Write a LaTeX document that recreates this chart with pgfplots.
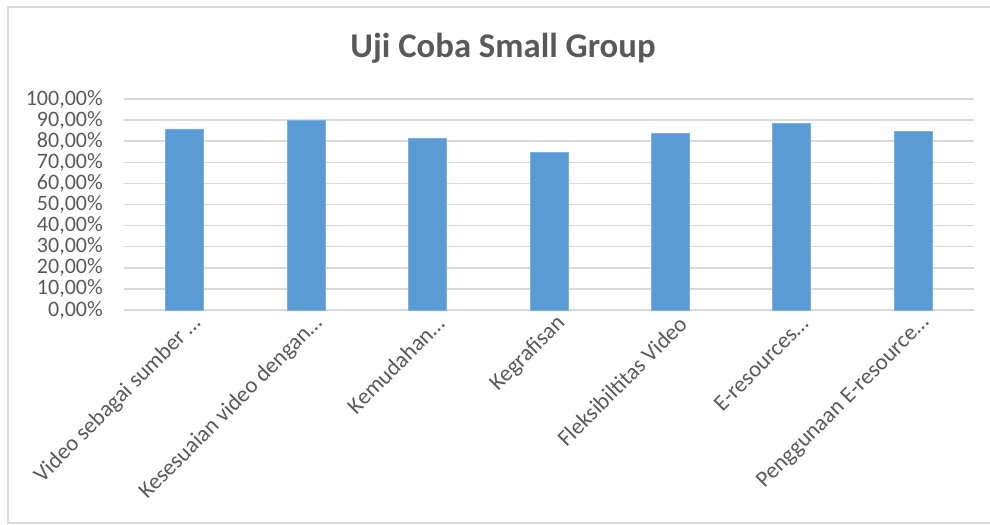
\documentclass[border=0pt]{standalone}
\usepackage{pgfplots}
\pgfplotsset{compat=1.18}
\usepackage{fontspec}
\setmainfont{Carlito}
\definecolor{barblue}{HTML}{5B9BD5}
\definecolor{gridgray}{HTML}{D9D9D9}
\definecolor{txtgray}{HTML}{595959}
\begin{document}
\begin{tikzpicture}[x=1bp,y=1bp]
\useasboundingbox (0,0) rectangle (990,525);
\draw[gridgray, line width=2bp] (8,2) rectangle (1000,518);
\node[text=txtgray, font=\fontsize{34.7bp}{40bp}\selectfont\bfseries] at (503,477) {Uji Coba Small Group};
\begin{axis}[
  at={(124bp,215bp)}, anchor=south west,
  scale only axis, width=850bp, height=211bp,
  xmin=-0.5, xmax=6.5, ymin=0, ymax=100,
  ytick={0,10,...,100},
  xtick={0,...,6},
  xticklabels={Video sebagai sumber …, Kesesuaian video dengan…, Kemudahan…, Kegrafisan, Fleksibiltitas Video, E-resources…, Penggunaan E-resource…},
  axis line style={draw=none},
  tick style={draw=none},
  ymajorgrids, grid style={gridgray, line width=1.5bp},
  /pgf/number format/assume math mode=true,
  yticklabel={\pgfmathprintnumber[fixed, fixed zerofill, precision=2, use comma]{\tick}\%},
  yticklabel style={text=txtgray, font=\fontsize{22bp}{24bp}\selectfont, anchor=east, inner sep=0pt, xshift=-21bp},
  xticklabel style={text=txtgray, font=\fontsize{22.8bp}{25bp}\selectfont, rotate=45, anchor=east, inner sep=0pt, yshift=-16bp, xshift=2bp},
  clip=false,
]
\addplot[ybar, bar width=38bp, fill=barblue, draw=barblue!80!white, line width=0.8bp] coordinates {
(0,85.8) (1,89.9) (2,81.5) (3,74.8) (4,83.5) (5,88.4) (6,84.8)
};
\end{axis}
\end{tikzpicture}
\end{document}
